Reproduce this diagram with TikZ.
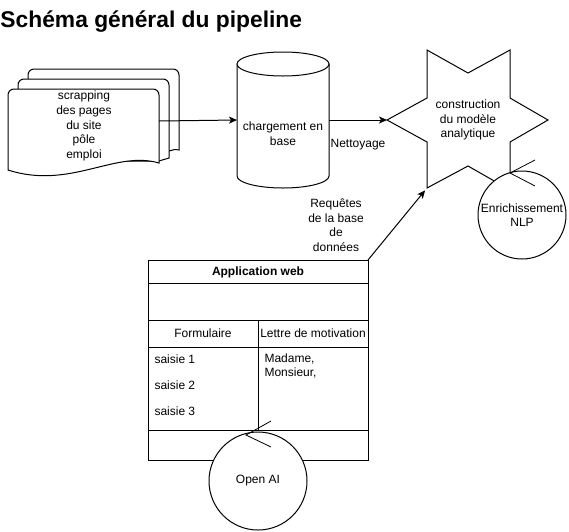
\documentclass[tikz,border=0pt]{standalone}
\usepackage{fontspec}
\setmainfont{Liberation Sans}
\usetikzlibrary{arrows.meta}
\begin{document}
\begin{tikzpicture}[x=1pt,y=-1pt, line width=1pt,
  font=\fontsize{12}{14.6}\selectfont,
  shapeline/.style={draw=black, line width=1pt, fill=white},
  arr/.style={-{Stealth[length=8pt,width=7pt,inset=2pt]}, line width=1pt},
  lbl/.style={align=center, inner sep=0pt},
  txt/.style={inner sep=0pt},
  barb/.style={line width=0.8pt},
  anchorbox/.style={inner sep=0pt, outer sep=0pt}]
\useasboundingbox (0,0) rectangle (569,531);

% title
\node[txt, anchor=base west, font=\bfseries\fontsize{22.8}{26}\selectfont] (title) at (0,27.5) {Schéma général du pipeline};

% multi-document
\draw[shapeline] (28,150) [rounded corners=6pt] -- (28,69) -- (179,69) [sharp corners] -- (179,150)
  .. controls (175,149) and (172,150) .. (169,151) -- cycle;
\draw[shapeline] (18,161) [rounded corners=6pt] -- (18,79) -- (169,79) [sharp corners] -- (169,158)
  .. controls (166,159) and (162,160) .. (159,161) -- cycle;
\draw[shapeline] (8,170) [rounded corners=6pt] -- (8,89) -- (159,89) [sharp corners] -- (159,163)
  .. controls (115,150) and (70,190) .. (8,170) -- cycle;
\node[anchorbox, minimum width=151pt, minimum height=60pt] (docs) at (83.5,121) {};
\node[lbl] (docstext) at (84,126) {scrapping\\des pages\\du site\\pôle\\emploi};

% cylinder
\draw[shapeline] (237,64) -- (237,176) arc[start angle=180, end angle=360, x radius=46pt, y radius=12pt] -- (329,64) -- cycle;
\draw[shapeline] (283,64) ellipse[x radius=46pt, y radius=12pt];
\node[anchorbox, minimum width=92pt, minimum height=136pt] (cyl) at (283,120) {};
\node[lbl] (cyltext) at (283,134) {chargement en\\base};

\draw[arr] (docs.east) -- (cyl.west);

% star
\draw[shapeline] (427,50) -- (468,73) -- (510,50) -- (510,98) -- (548,120) -- (510,142) -- (510,190)
  -- (468,166) -- (427,188) -- (427,142) -- (387,120) -- (427,98) -- cycle;
\coordinate (starL) at (387,120);
\coordinate (starBL) at (427,188);
\node[lbl] (star) at (468,120) {construction\\du modèle\\analytique};

\draw[arr] (cyl.east) -- (starL);
\node[txt] (nett) at (358,145) {Nettoyage};

% enrichissement
\node[circle, shapeline, minimum size=88pt, inner sep=0pt, align=center] (nlp) at (522,215) {Enrichissement\\NLP};
\coordinate (nlptip) at (510,173);
\coordinate (nlpa) at (535,160);
\coordinate (nlpb) at (535,186);
\draw[barb] (nlpa) -- (nlptip) -- (nlpb);

% application web
\node[draw, line width=1pt, anchorbox, minimum width=220pt, minimum height=200pt, anchor=north west] (app) at (148,260) {};
\draw (148,283) -- (368,283);
\draw (148,320) -- (368,320);
\draw (148,347) -- (368,347);
\draw (148,430) -- (368,430);
\draw (258,320) -- (258,430);
\node[txt, font=\bfseries\fontsize{12}{14.6}\selectfont] (apptitle) at (258,272) {Application web};
\node[txt] (form) at (203,333) {Formulaire};
\node[txt] (lettre) at (313,333) {Lettre de motivation};
\node[txt, anchor=west] (s1) at (154,359) {saisie 1};
\node[txt, anchor=west] (s2) at (154,385) {saisie 2};
\node[txt, anchor=west] (s3) at (154,411) {saisie 3};
\node[txt, anchor=north west, align=left] (madame) at (264,353) {Madame,\\Monsieur,};

\draw[arr, shorten >=3pt] (app.north east) -- (starBL);
\node[lbl] (req) at (336,225) {Requêtes\\de la base\\de\\données};

% open ai
\node[circle, shapeline, minimum size=98pt, inner sep=0pt] (openai) at (258,481) {Open AI};
\coordinate (aitip) at (246,435);
\coordinate (aia) at (271,421);
\coordinate (aib) at (271,447);
\draw[barb] (aia) -- (aitip) -- (aib);
\end{tikzpicture}
\end{document}
